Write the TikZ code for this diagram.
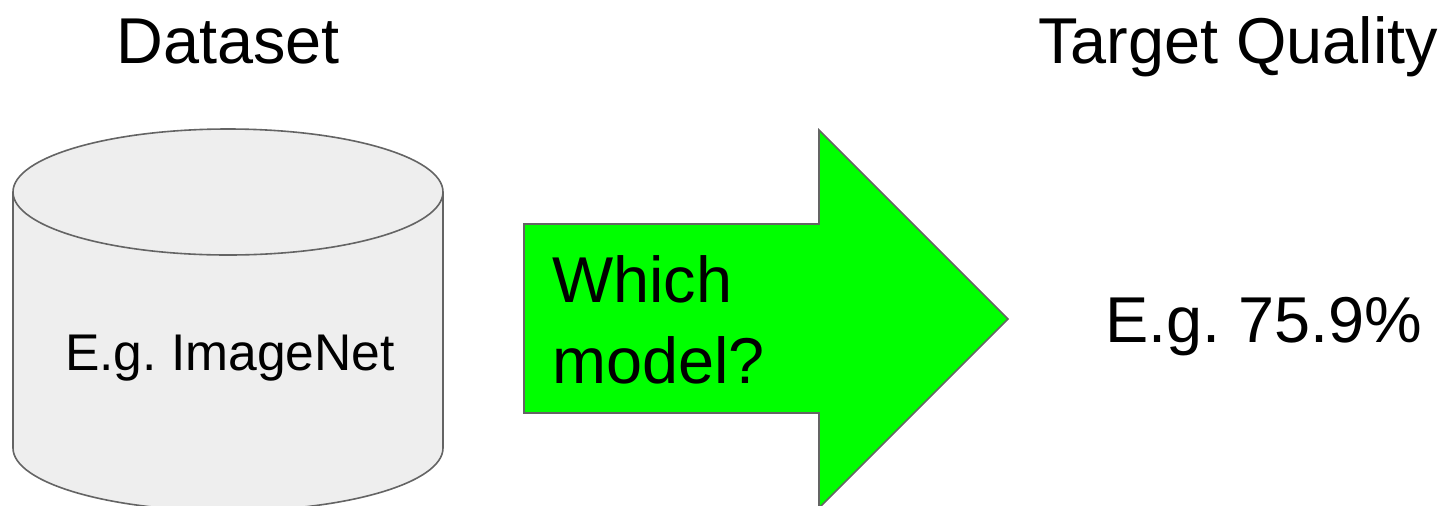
\documentclass[tikz,border=0pt]{standalone}
\usepackage{fontspec}
\setmainfont{Liberation Sans}
\usepackage{tikz}
\usetikzlibrary{positioning}
\definecolor{dsfill}{RGB}{238,238,238}
\definecolor{dsline}{RGB}{100,100,100}
\definecolor{arrowgreen}{RGB}{0,255,0}
\frenchspacing

\begin{document}
\begin{tikzpicture}[
      x=0.5pt, y=0.5pt,
      big/.style={font=\fontsize{32.4}{40.5}\selectfont, inner sep=0pt},
      small/.style={font=\fontsize{25.8}{31}\selectfont, inner sep=0pt},
      outline/.style={draw=dsline, line width=0.8pt}
    ]
      \useasboundingbox (0,0) rectangle (1442,-505);

      % cylinder for the dataset
      \fill[dsfill] (13,-192) -- (13,-448)
        arc[start angle=180, end angle=360, x radius=215, y radius=63]
        -- (443,-192)
        arc[start angle=0, end angle=180, x radius=215, y radius=63] -- cycle;
      \draw[outline] (13,-192) -- (13,-448)
        arc[start angle=180, end angle=360, x radius=215, y radius=63]
        -- (443,-192);
      \draw[outline, fill=dsfill] (228,-192) ellipse[x radius=215, y radius=63];

      % big arrow
      \draw[outline, fill=arrowgreen, line join=miter]
        (524,-224) -- (819,-224) -- (819,-130) -- (1008,-319)
        -- (819,-508) -- (819,-413) -- (524,-413) -- cycle;

      \node[big, anchor=base] (dataset) at (228,-63) {Dataset};
      \node[big, anchor=base west] (target) at (1038,-63) {Target Quality};
      \node[small, anchor=base] (imagenet) at (230,-370) {E.g. ImageNet};
      \node[big, anchor=base west, align=left] (which) at (552,-383) {Which\\model?};
      \node[big, anchor=base west] (quality) at (1105,-342) {E.g. 75.9\%};
    \end{tikzpicture}
\end{document}
